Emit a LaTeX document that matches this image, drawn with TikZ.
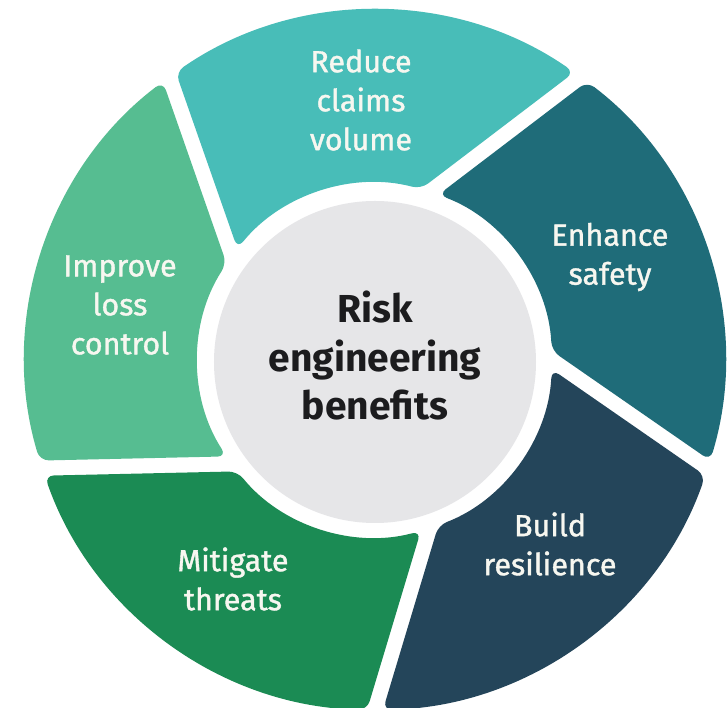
\documentclass[tikz,border=0pt]{standalone}
\usepackage{fontspec}
\setmainfont{Fira Sans}
\IfFontExistsTF{FiraSans-SemiBold.otf}
  {\newfontfamily\labelfont{FiraSans-SemiBold.otf}}
  {\newfontfamily\labelfont{Fira Sans}[FakeBold=1.2]}
\definecolor{cReduce}{HTML}{48BDB8}
\definecolor{cEnhance}{HTML}{1F6C79}
\definecolor{cBuild}{HTML}{24455A}
\definecolor{cMitigate}{HTML}{1B8B54}
\definecolor{cImprove}{HTML}{56BD91}
\definecolor{cHub}{HTML}{E6E6E8}
\definecolor{cHubText}{HTML}{1C1C1E}
\definecolor{cLabel}{HTML}{F7F7F0}
\begin{document}
\begin{tikzpicture}[x=1pt,y=1pt,
  segshape/.style={rounded corners=9pt},
  lbl/.style={text=cLabel, align=center, font=\labelfont\fontsize{30.5}{39}\selectfont},
  hubtext/.style={text=cHubText, align=center, font=\bfseries\fontsize{39}{48.5}\selectfont}]
\useasboundingbox (-375,-348) rectangle (353,360);
\clip (-375,-348) rectangle (353,360);
\fill[white] (-375,-348) rectangle (353,360);
\def\ri{177}
\def\ro{350}
% #1 colour, #2 inner start, #3 inner end, #4 outer start, #5 outer end
\newcommand\mysegment[5]{%
  \fill[#1, segshape] (#2:\ri) arc[start angle=#2, end angle=#3, radius=\ri]
    -- (#5:\ro) arc[start angle=#5, end angle=#4, radius=\ro] -- cycle;}
\mysegment{cReduce}{75}{141}{55.3}{124.7}
\mysegment{cEnhance}{3}{69}{-16.7}{52.7}
\mysegment{cBuild}{-69}{-3}{-88.7}{-19.3}
\mysegment{cMitigate}{-141}{-75}{-160.7}{-91.3}
\mysegment{cImprove}{147}{213}{127.3}{196.7}
\fill[cHub] (0,-2) circle (161);
\node[hubtext] (hub) at (0,4) {Risk\\engineering\\benefits};
\node[lbl] (reduce) at (-14,260) {Reduce\\claims\\volume};
\node[lbl] (enhance) at (235,103) {Enhance\\safety};
\node[lbl] (build) at (175,-184) {Build\\resilience};
\node[lbl] (mitigate) at (-142,-219) {Mitigate\\threats};
\node[lbl] (improve) at (-255,55) {Improve\\loss\\control};
\end{tikzpicture}
\end{document}
